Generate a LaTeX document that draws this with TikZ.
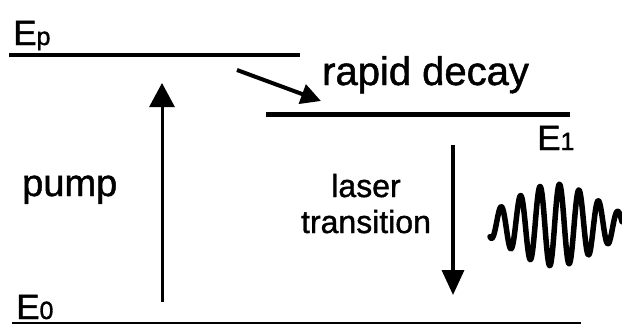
\documentclass[tikz,border=0pt]{standalone}
\usepackage{fontspec}
\setmainfont{Liberation Sans}[FakeBold=1.2]
\usetikzlibrary{arrows.meta}
\begin{document}
\begin{tikzpicture}[x=1pt,y=-1pt,
  lbl/.style={inner sep=0pt, anchor=base west, font=\fontsize{39}{41}\selectfont},
  elbl/.style={inner sep=0pt, anchor=base west, font=\fontsize{35}{37}\selectfont},
  arr/.style={line width=3pt,-{Triangle[width=25pt,length=24pt]}},
  wave/.style={line width=5.5pt, line join=round, line cap=round}]
\useasboundingbox[fill=white] (0,0) rectangle (622,325);
% energy levels
\coordinate (EpL) at (9,55);   \coordinate (EpR) at (300,55);
\coordinate (E1L) at (266,114.5); \coordinate (E1R) at (570,114.5);
\coordinate (E0L) at (12,323); \coordinate (E0R) at (581,323);
\draw[line width=3.5pt] (EpL) -- (EpR);
\draw[line width=4.5pt] (E1L) -- (E1R);
\draw[line width=2.5pt] (E0L) -- (E0R);
% level labels
\node[elbl] (Ep) at (13,45) {E{\fontsize{25}{25}\selectfont p}};
\node[elbl] (E1) at (537,150) {E{\fontsize{25}{25}\selectfont 1}};
\node[elbl] (E0) at (16,319) {E{\fontsize{25}{25}\selectfont 0}};
% pump
\coordinate (pumpS) at (162,302); \coordinate (pumpE) at (162,83);
\draw[arr] (pumpS) -- (pumpE);
\node[lbl, font=\fontsize{38}{40}\selectfont] (pump) at (22,196) {pump};
% rapid decay
\coordinate (decS) at (237,70); \coordinate (decE) at (321,101);
\draw[line width=4pt,-{Triangle[width=20pt,length=20pt]}] (decS) -- (decE);
\node[lbl, font=\fontsize{40}{42}\selectfont] (decay) at (322,85) {rapid decay};
% laser transition
\coordinate (lasS) at (453,145); \coordinate (lasE) at (453,295);
\draw[line width=3.5pt,-{Triangle[width=22pt,length=25pt]}] (lasS) -- (lasE);
\node[inner sep=0pt, anchor=base, align=center, font=\fontsize{32}{36}\selectfont] (laser) at (366,233) {laser\\transition};
% emitted wave
\draw[wave] plot[domain=490:622, samples=260, smooth]
  (\x, {225 - 41*exp(-((\x-555)/60)*((\x-555)/60))*sin(18.4615*(\x-535.1))});
\end{tikzpicture}
\end{document}
